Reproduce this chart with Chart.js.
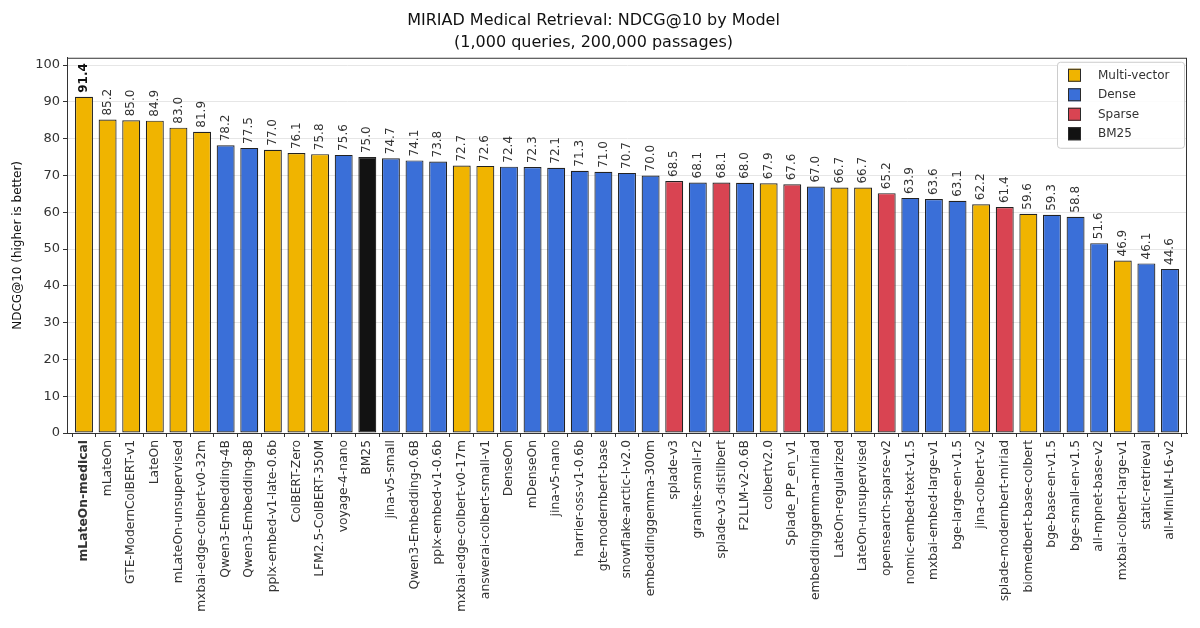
<!DOCTYPE html>
<html>
<head>
<meta charset="utf-8">
<script src="https://cdn.jsdelivr.net/npm/chart.js@4.4.1/dist/chart.umd.min.js"></script>
<style>
  html, body { margin: 0; padding: 0; background: #fff; }
  #wrap { width: 1200px; height: 628px; }
</style>
</head>
<body>
<div id="wrap"><canvas id="chart"></canvas></div>
<script>
const models = [
  "mLateOn-medical", "mLateOn", "GTE-ModernColBERT-v1", "LateOn", "mLateOn-unsupervised",
  "mxbai-edge-colbert-v0-32m", "Qwen3-Embedding-4B", "Qwen3-Embedding-8B", "pplx-embed-v1-late-0.6b",
  "ColBERT-Zero", "LFM2.5-ColBERT-350M", "voyage-4-nano", "BM25", "jina-v5-small",
  "Qwen3-Embedding-0.6B", "pplx-embed-v1-0.6b", "mxbai-edge-colbert-v0-17m", "answerai-colbert-small-v1",
  "DenseOn", "mDenseOn", "jina-v5-nano", "harrier-oss-v1-0.6b", "gte-modernbert-base",
  "snowflake-arctic-l-v2.0", "embeddinggemma-300m", "splade-v3", "granite-small-r2",
  "splade-v3-distilbert", "F2LLM-v2-0.6B", "colbertv2.0", "Splade_PP_en_v1", "embeddinggemma-miriad",
  "LateOn-regularized", "LateOn-unsupervised", "opensearch-sparse-v2", "nomic-embed-text-v1.5",
  "mxbai-embed-large-v1", "bge-large-en-v1.5", "jina-colbert-v2", "splade-modernbert-miriad",
  "biomedbert-base-colbert", "bge-base-en-v1.5", "bge-small-en-v1.5", "all-mpnet-base-v2",
  "mxbai-colbert-large-v1", "static-retrieval", "all-MiniLM-L6-v2"
];

const ndcg = [
  91.4, 85.2, 85.0, 84.9, 83.0, 81.9, 78.2, 77.5, 77.0, 76.1, 75.8, 75.6, 75.0, 74.7,
  74.1, 73.8, 72.7, 72.6, 72.4, 72.3, 72.1, 71.3, 71.0, 70.7, 70.0, 68.5, 68.1, 68.1,
  68.0, 67.9, 67.6, 67.0, 66.7, 66.7, 65.2, 63.9, 63.6, 63.1, 62.2, 61.4, 59.6, 59.3,
  58.8, 51.6, 46.9, 46.1, 44.6
];

// M = multi-vector, D = dense, S = sparse, B = BM25
const kinds = [
  "M", "M", "M", "M", "M", "M", "D", "D", "M", "M", "M", "D", "B", "D",
  "D", "D", "M", "M", "D", "D", "D", "D", "D", "D", "D", "S", "D", "S",
  "D", "M", "S", "D", "M", "M", "S", "D", "D", "D", "M", "S", "M", "D",
  "D", "D", "M", "D", "D"
];

const kindNames = ["Multi-vector", "Dense", "Sparse", "BM25"];
const kindKeys = ["M", "D", "S", "B"];
const kindColors = { M: "#f0b400", D: "#3a6fd8", S: "#d94452", B: "#121212" };

const yTicks = [0, 10, 20, 30, 40, 50, 60, 70, 80, 90, 100];

const FONT = "'DejaVu Sans', sans-serif";
const INK = "#333333";

// value labels above each bar, rotated
const valueLabels = {
  id: "valueLabels",
  afterDatasetsDraw(chart) {
    const ctx = chart.ctx;
    const meta = chart.getDatasetMeta(0);
    ctx.save();
    meta.data.forEach((bar, i) => {
      ctx.save();
      ctx.translate(bar.x, bar.y - 4);
      ctx.rotate(-Math.PI / 2);
      ctx.font = (i === 0 ? "bold " : "") + "12px " + FONT;
      ctx.fillStyle = i === 0 ? "#111" : INK;
      ctx.textAlign = "left";
      ctx.textBaseline = "middle";
      ctx.fillText(ndcg[i].toFixed(1), 0, 0);
      ctx.restore();
    });
    ctx.restore();
  }
};

// full box round the plot + legend inside top right
const frameAndLegend = {
  id: "frameAndLegend",
  afterDraw(chart) {
    const { ctx, chartArea: a } = chart;
    ctx.save();
    ctx.strokeStyle = INK;
    ctx.lineWidth = 1;
    ctx.strokeRect(a.left + 0.5, a.top + 0.5, a.right - a.left - 1, a.bottom - a.top);

    const w = 127, h = 86;
    const x0 = a.right - w - 3, y0 = a.top + 4;
    ctx.fillStyle = "rgba(255,255,255,0.85)";
    ctx.strokeStyle = "#cccccc";
    ctx.beginPath();
    ctx.roundRect(x0 + 0.5, y0 + 0.5, w, h, 3);
    ctx.fill();
    ctx.stroke();

    ctx.font = "12px " + FONT;
    ctx.textBaseline = "middle";
    ctx.textAlign = "left";
    kindNames.forEach((name, i) => {
      const cy = y0 + 13 + i * 19.5;
      ctx.fillStyle = kindColors[kindKeys[i]];
      ctx.fillRect(x0 + 11, cy - 6, 13, 13);
      ctx.strokeStyle = "#2a2a2a";
      ctx.strokeRect(x0 + 11.5, cy - 5.5, 12, 12);
      ctx.fillStyle = INK;
      ctx.fillText(name, x0 + 41, cy + 1);
    });
    ctx.restore();
  }
};

new Chart(document.getElementById("chart"), {
  type: "bar",
  data: {
    datasets: [{
      data: ndcg.map((v, i) => ({ x: i, y: v })),
      backgroundColor: kinds.map(k => kindColors[k]),
      borderColor: "#222222",
      borderWidth: 1.2,
      borderSkipped: false,
      barPercentage: 0.76,
      categoryPercentage: 1.0
    }]
  },
  options: {
    responsive: true,
    maintainAspectRatio: false,
    animation: false,
    devicePixelRatio: 1,
    layout: { padding: { left: 0, right: 13, top: 0, bottom: 0 } },
    plugins: {
      legend: { display: false },
      tooltip: { enabled: false },
      title: {
        display: true,
        text: ["MIRIAD Medical Retrieval: NDCG@10 by Model", "(1,000 queries, 200,000 passages)"],
        color: "#111",
        font: { family: FONT, size: 16, weight: "normal", lineHeight: 1.43 },
        padding: { top: 9, bottom: 3 }
      }
    },
    scales: {
      x: {
        type: "linear",
        offset: false,
        min: -0.72,
        max: models.length - 1 + 0.72,
        afterBuildTicks(scale) {
          scale.ticks = models.map((_, i) => ({ value: i }));
        },
        afterFit(scale) { scale.height = 195; },
        grid: { display: true, drawOnChartArea: false, drawTicks: true, tickLength: 4, color: INK },
        border: { display: true, color: INK },
        ticks: {
          autoSkip: false,
          maxRotation: 90,
          minRotation: 90,
          padding: 3,
          color: INK,
          font: ctx => ({ family: FONT, size: 12.3, weight: ctx.index === 0 ? "bold" : "normal" }),
          callback: v => models[v]
        }
      },
      y: {
        min: 0,
        max: 102,
        afterBuildTicks(scale) {
          scale.ticks = yTicks.map(v => ({ value: v }));
        },
        afterFit(scale) { scale.width = 67; },
        grid: { color: "#e6e6e6", lineWidth: 1, tickColor: INK, tickLength: 4 },
        border: { display: true, color: INK },
        ticks: { padding: 3, color: INK, font: { family: FONT, size: 13 } },
        title: {
          display: true,
          text: "NDCG@10 (higher is better)",
          color: "#111",
          font: { family: FONT, size: 12 },
          padding: { top: 11, bottom: 2 }
        }
      }
    }
  },
  plugins: [valueLabels, frameAndLegend]
});
</script>
</body>
</html>
